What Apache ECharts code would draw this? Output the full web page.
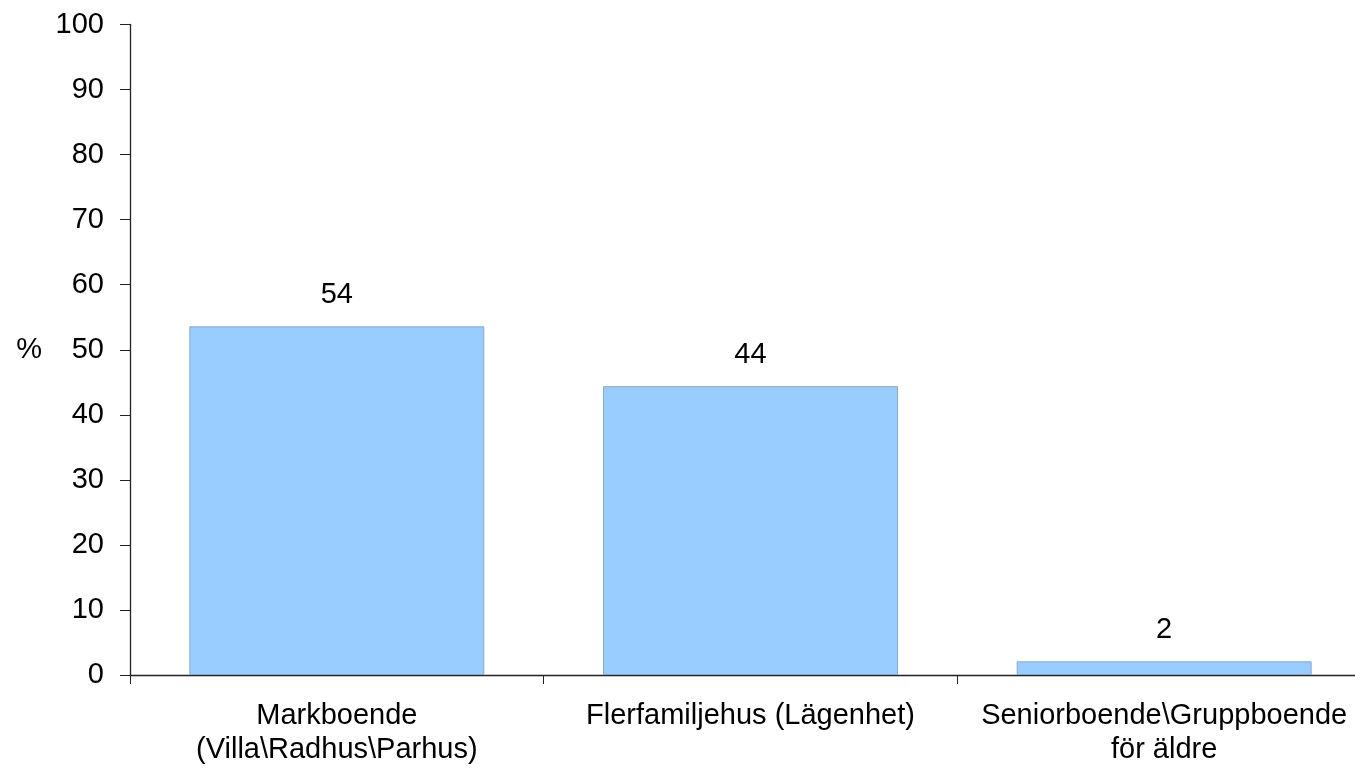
<!DOCTYPE html>
<html>
<head>
<meta charset="utf-8">
<script src="https://cdn.jsdelivr.net/npm/echarts@6/dist/echarts.min.js"></script>
<style>
html,body{margin:0;padding:0;background:#fff;}
#chart{width:1355px;height:769px;}
</style>
</head>
<body>
<div id="chart"></div>
<script>
const categories = ['Markboende\n(Villa\\Radhus\\Parhus)', 'Flerfamiljehus (Lägenhet)', 'Seniorboende\\Gruppboende\nför äldre'];
const values = [53.6, 44.4, 2.1];
const yTicks = [0, 10, 20, 30, 40, 50, 60, 70, 80, 90, 100];

const chart = echarts.init(document.getElementById('chart'));
const font = 'Liberation Sans, Arial, sans-serif';
chart.setOption({
  animation: false,
  backgroundColor: '#fff',
  grid: { left: 130, top: 24.5, right: -16, bottom: 94, containLabel: false, outerBoundsMode: 'none' },
  xAxis: {
    type: 'category',
    data: categories,
    axisLine: { lineStyle: { color: '#222', width: 1.3 } },
    axisTick: { show: true, length: 9, alignWithLabel: false, lineStyle: { color: '#222' } },
    axisLabel: { interval: 0, color: '#000', fontFamily: font, fontSize: 29, lineHeight: 34, margin: 24 },
    splitLine: { show: false }
  },
  yAxis: {
    type: 'value',
    min: 0, max: 100, interval: 10,
    name: '%',
    nameLocation: 'middle',
    nameRotate: 0,
    nameGap: 88,
    nameTextStyle: { color: '#000', fontFamily: font, fontSize: 29 },
    axisLine: { show: true, lineStyle: { color: '#222', width: 1.3 } },
    axisTick: { show: true, length: 10, lineStyle: { color: '#222' } },
    axisLabel: { color: '#000', fontFamily: font, fontSize: 29, margin: 26,
      formatter: v => yTicks.includes(v) ? String(v) : '' },
    splitLine: { show: false }
  },
  series: [{
    type: 'bar',
    data: values,
    barWidth: 295,
    itemStyle: { color: '#99CCFF', borderColor: '#8aa9c8', borderWidth: 1 },
    label: {
      show: true, position: 'top', distance: 17,
      color: '#000', fontFamily: font, fontSize: 29,
      formatter: p => String(Math.round(p.value))
    }
  }]
});
</script>
</body>
</html>
